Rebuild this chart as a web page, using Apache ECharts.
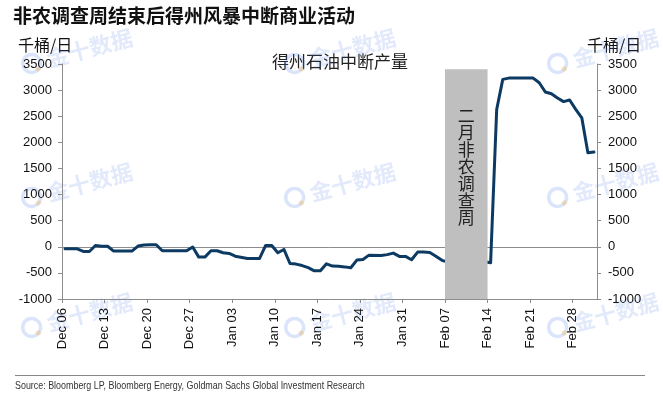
<!DOCTYPE html>
<html>
<head>
<meta charset="utf-8">
<script src="https://cdn.jsdelivr.net/npm/echarts@6/dist/echarts.min.js"></script>
<style>
html,body{margin:0;padding:0;background:#fff;}
#c{width:663px;height:394px;}
</style>
</head>
<body>
<div id="c"></div>
<script>
// ---- data ----
const titleText = '非农调查周结束后得州风暴中断商业活动';
const unitText = '千桶/日';
const seriesName = '得州石油中断产量';
const bandText = '二月非农调查周';
const sourceText = 'Source: Bloomberg LP, Bloomberg Energy, Goldman Sachs Global Investment Research';
const axisStart = '2020-12-06';
const axisEnd = '2021-03-04';
const bandDates = ['2021-02-07', '2021-02-14'];
const dates = [
  '2020-12-06','2020-12-08','2020-12-09','2020-12-10','2020-12-11','2020-12-12','2020-12-13',
  '2020-12-14','2020-12-17','2020-12-18','2020-12-19','2020-12-20','2020-12-21','2020-12-22',
  '2020-12-26','2020-12-27','2020-12-28','2020-12-29','2020-12-30','2020-12-31','2021-01-01',
  '2021-01-02','2021-01-03','2021-01-05','2021-01-07','2021-01-08','2021-01-09','2021-01-10',
  '2021-01-11','2021-01-12','2021-01-13','2021-01-14','2021-01-15','2021-01-16','2021-01-17',
  '2021-01-18','2021-01-19','2021-01-20','2021-01-21','2021-01-22','2021-01-23','2021-01-24',
  '2021-01-25','2021-01-27','2021-01-28','2021-01-29','2021-01-30','2021-01-31','2021-02-01',
  '2021-02-02','2021-02-03','2021-02-04','2021-02-05','2021-02-06','2021-02-07','2021-02-13',
  '2021-02-14','2021-02-15','2021-02-16','2021-02-17','2021-02-21','2021-02-22','2021-02-23',
  '2021-02-24','2021-02-25','2021-02-26','2021-02-27','2021-02-28','2021-03-01','2021-03-02',
  '2021-03-03'
];
const values = [
  -40,-40,-90,-90,25,10,10,
  -83,-83,13,35,38,38,-77,
  -77,-5,-198,-198,-77,-77,-115,
  -128,-180,-223,-223,25,25,-115,
  -51,-320,-332,-360,-400,-460,-460,
  -326,-370,-375,-385,-402,-255,-243,
  -160,-166,-150,-121,-185,-185,-249,
  -102,-100,-108,-180,-260,-295,-285,
  -306,2630,3205,3230,3230,3141,2963,
  2930,2850,2780,2810,2630,2470,1800,
  1813
];
const bandTop = 3400;
const yMin = -1000, yMax = 3500, yStep = 500;
const monthNames = ['Jan','Feb','Mar','Apr','May','Jun','Jul','Aug','Sep','Oct','Nov','Dec'];

// ---- helpers ----
const DAY = 86400000;
const t0 = Date.parse(axisStart + 'T00:00:00Z');
function dayIdx(d){ return Math.round((Date.parse(d + 'T00:00:00Z') - t0) / DAY); }
function fmtDay(v){
  const dt = new Date(t0 + v * DAY);
  const dd = dt.getUTCDate();
  return monthNames[dt.getUTCMonth()] + ' ' + (dd < 10 ? '0' + dd : dd);
}
// each day occupies a slot; points sit in the middle of their slot
const lineData = dates.map((d, i) => [dayIdx(d) + 0.5, values[i]]);
const xMax = dayIdx(axisEnd);

const numFont = 'Liberation Sans, Arial, sans-serif';
const cjkFont = 'Noto Sans CJK SC, sans-serif';
const axisGray = '#8c8c8c';

const yAxisCommon = {
  type: 'value', min: yMin, max: yMax, interval: yStep,
  axisLine: {show: true, lineStyle: {color: axisGray, width: 1}},
  axisTick: {show: true, inside: false, length: 4, lineStyle: {color: axisGray}},
  splitLine: {show: false},
  axisLabel: {color: '#111', fontSize: 13, fontFamily: numFont, formatter: v => String(v)}
};

// watermarks
const wmPos = [[22,44],[285,44],[548,44],[22,178],[285,178],[548,178],[22,308],[285,308],[548,308]];
const watermarks = wmPos.map(p => ({
  type: 'group', x: p[0], y: p[1] + 22, rotation: 0.26, silent: true, z: 50,
  children: [
    {type: 'circle', shape: {cx: 10, cy: 0, r: 9}, style: {fill: 'none', stroke: 'rgba(70,120,230,0.2)', lineWidth: 3.5}},
    {type: 'circle', shape: {cx: 15, cy: 7, r: 2.5}, style: {fill: 'rgba(245,170,60,0.3)'}},
    {type: 'text', x: 26, y: 0, style: {text: '金十数据', fontSize: 22, fontWeight: 'bold', fontFamily: cjkFont, fill: 'rgba(70,120,230,0.16)', verticalAlign: 'middle'}}
  ]
}));

const chart = echarts.init(document.getElementById('c'), null, {renderer: 'canvas'});
chart.setOption({
  animation: false,
  backgroundColor: '#fff',
  grid: {left: 62, right: 66, top: 64, bottom: 95, containLabel: false},
  xAxis: {
    type: 'value', min: 0, max: xMax, interval: 7,
    axisLine: {show: true, onZero: false, lineStyle: {color: axisGray, width: 1}},
    axisTick: {show: true, inside: false, length: 4, lineStyle: {color: axisGray}},
    splitLine: {show: false},
    axisLabel: {rotate: 90, margin: 9, color: '#111', fontSize: 13, fontFamily: numFont,
      showMaxLabel: false, formatter: v => (v % 7 === 0 && v < xMax) ? fmtDay(v) : ''}
  },
  yAxis: [
    Object.assign({}, yAxisCommon, {position: 'left', axisLabel: Object.assign({}, yAxisCommon.axisLabel, {margin: 10})}),
    Object.assign({}, yAxisCommon, {position: 'right', axisLabel: Object.assign({}, yAxisCommon.axisLabel, {margin: 11})})
  ],
  series: [
    {
      type: 'line', data: [], z: 1, silent: true,
      markLine: {silent: true, symbol: 'none', label: {show: false}, z: 1,
        lineStyle: {color: axisGray, width: 1, type: 'solid'},
        data: [{yAxis: 0}]}
    },
    {
      name: seriesName, type: 'line', data: lineData, z: 2,
      showSymbol: false, symbol: 'none',
      lineStyle: {color: '#0d3a63', width: 3, join: 'round', cap: 'round'}
    },
    {
      type: 'line', data: [], z: 10, silent: true,
      markArea: {
        silent: true, z: 10,
        itemStyle: {color: '#bfbfbf', opacity: 1},
        label: {show: true, position: 'insideTop', distance: 38,
          formatter: bandText.split('').join('\n'),
          fontSize: 17, lineHeight: 17, color: '#222', fontFamily: cjkFont},
        data: [[{xAxis: dayIdx(bandDates[0]), yAxis: yMin}, {xAxis: dayIdx(bandDates[1]), yAxis: bandTop}]]
      }
    }
  ],
  graphic: [
    {type: 'text', left: 13, top: 6, style: {text: titleText, fontSize: 19, fontWeight: 'bold', fontFamily: cjkFont, fill: '#111'}},
    {type: 'text', left: 18, top: 37, style: {text: unitText, fontSize: 16, fontFamily: cjkFont, fill: '#111'}},
    {type: 'text', left: 587, top: 37, style: {text: unitText, fontSize: 16, fontFamily: cjkFont, fill: '#111'}},
    {type: 'text', left: 272, top: 53, style: {text: seriesName, fontSize: 17, fontFamily: cjkFont, fill: '#222'}},
    {type: 'line', shape: {x1: 15, y1: 375.5, x2: 645, y2: 375.5}, style: {stroke: '#888', lineWidth: 1}},
    {type: 'text', x: 15, y: 380, scaleX: 0.81, style: {text: sourceText, fontSize: 11, fontFamily: numFont, fill: '#333'}}
  ].concat(watermarks)
});
</script>
</body>
</html>
